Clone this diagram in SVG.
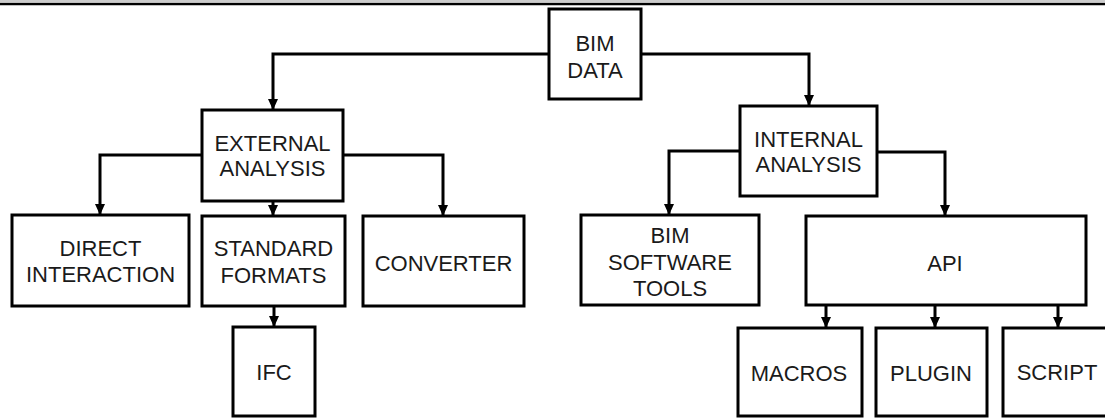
<svg xmlns="http://www.w3.org/2000/svg" width="1105" height="419" viewBox="0 0 1105 419">
<defs>
<style>
.box{fill:#fff;stroke:#000;stroke-width:3}
.t{font-family:"Liberation Sans",Arial,sans-serif;font-size:22px;fill:#1a1a1a;text-anchor:middle}
.c{fill:none;stroke:#000;stroke-width:3}
</style>
<marker id="ah" markerWidth="11" markerHeight="11" viewBox="0 0 11 10" refX="11" refY="5" orient="auto" markerUnits="userSpaceOnUse">
<path d="M0,0 L11,5 L0,10 Z" fill="#000"/>
</marker>
</defs>
<rect x="0" y="0" width="1105" height="419" fill="#fff"/>
<line x1="0" y1="1" x2="1105" y2="1" stroke="#999" stroke-width="1"/>
<line x1="0" y1="4" x2="1105" y2="4" stroke="#000" stroke-width="2.5"/>
<g id="connectors">
<path class="c" d="M549,54 H273 V110" marker-end="url(#ah)"/>
<path class="c" d="M641,54 H809 V106" marker-end="url(#ah)"/>
<path class="c" d="M202,155 H100 V215" marker-end="url(#ah)"/>
<path class="c" d="M273,201 V216" marker-end="url(#ah)"/>
<path class="c" d="M343,155 H443 V216" marker-end="url(#ah)"/>
<path class="c" d="M274,306 V327" marker-end="url(#ah)"/>
<path class="c" d="M740,151 H669 V215" marker-end="url(#ah)"/>
<path class="c" d="M877,152 H945 V216" marker-end="url(#ah)"/>
<path class="c" d="M826,305 V328" marker-end="url(#ah)"/>
<path class="c" d="M935,305 V328" marker-end="url(#ah)"/>
<path class="c" d="M1058,305 V328" marker-end="url(#ah)"/>
</g>
<g id="bim-data"><rect class="box" x="549" y="9" width="92" height="90"/><text class="t" x="595" y="51">BIM</text><text class="t" x="595" y="78">DATA</text></g>
<g id="external-analysis"><rect class="box" x="202" y="110" width="141" height="91"/><text class="t" x="272.5" y="151">EXTERNAL</text><text class="t" x="272.5" y="176">ANALYSIS</text></g>
<g id="internal-analysis"><rect class="box" x="740" y="106" width="137" height="90"/><text class="t" x="808.5" y="147">INTERNAL</text><text class="t" x="808.5" y="172">ANALYSIS</text></g>
<g id="direct-interaction"><rect class="box" x="12" y="215" width="177" height="91"/><text class="t" x="100.5" y="256">DIRECT</text><text class="t" x="100.5" y="282">INTERACTION</text></g>
<g id="standard-formats"><rect class="box" x="202" y="216" width="143" height="90"/><text class="t" x="273.5" y="256">STANDARD</text><text class="t" x="273.5" y="283">FORMATS</text></g>
<g id="converter"><rect class="box" x="363" y="216" width="161" height="90"/><text class="t" x="443.5" y="271">CONVERTER</text></g>
<g id="ifc"><rect class="box" x="233" y="327" width="82" height="89"/><text class="t" x="274" y="380">IFC</text></g>
<g id="bim-software-tools"><rect class="box" x="581" y="215" width="178" height="90"/><text class="t" x="670" y="243">BIM</text><text class="t" x="670" y="270">SOFTWARE</text><text class="t" x="670" y="296">TOOLS</text></g>
<g id="api"><rect class="box" x="806" y="216" width="280" height="89"/><text class="t" x="945" y="271">API</text></g>
<g id="macros"><rect class="box" x="738" y="328" width="124" height="88"/><text class="t" x="799" y="381">MACROS</text></g>
<g id="plugin"><rect class="box" x="876" y="328" width="111" height="88"/><text class="t" x="931" y="381">PLUGIN</text></g>
<g id="script"><rect class="box" x="1003" y="328" width="110" height="88"/><text class="t" x="1057" y="380">SCRIPT</text></g>
</svg>
